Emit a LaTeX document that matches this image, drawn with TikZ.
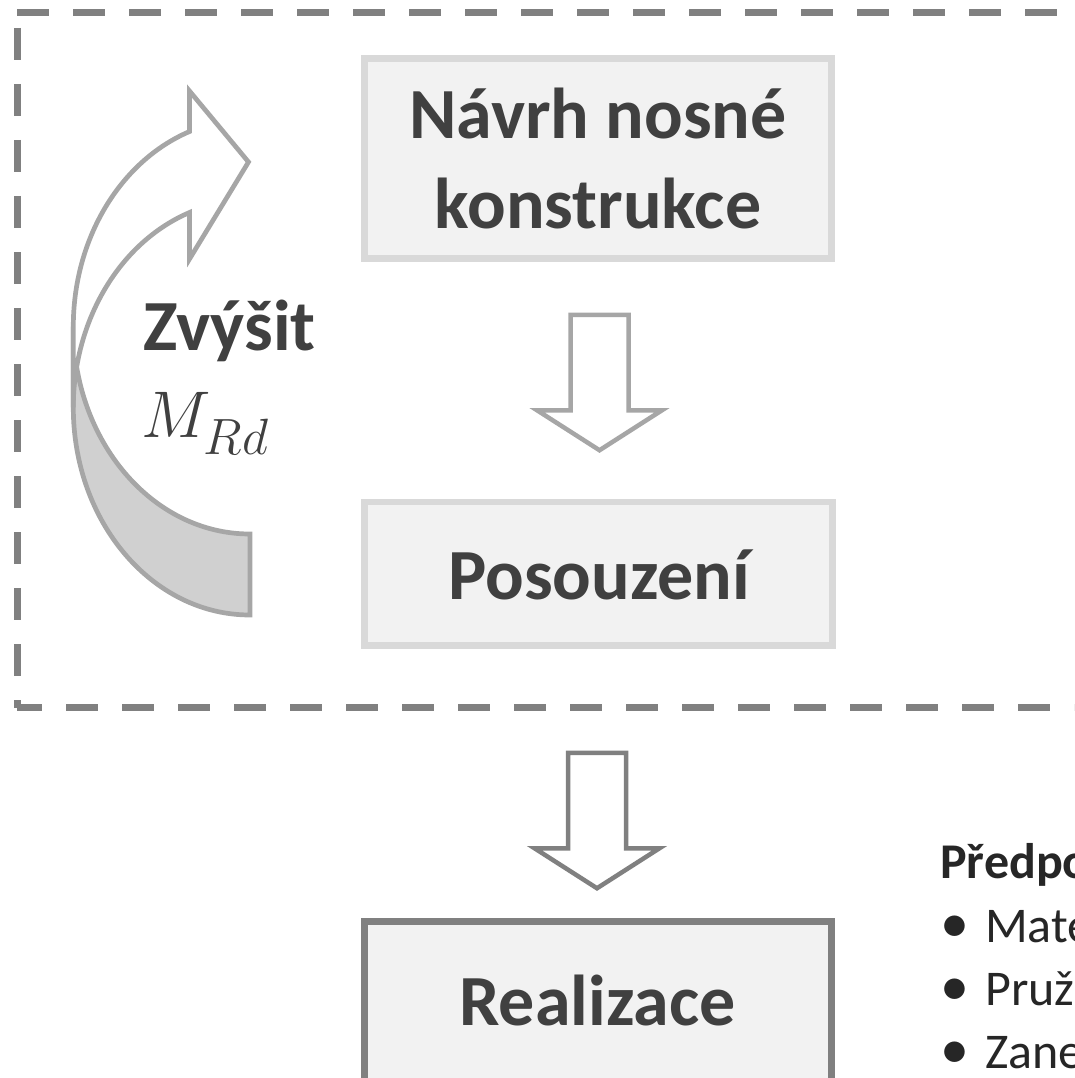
\RequirePackage{fix-cm}
\documentclass[tikz,border=0pt]{standalone}
\usepackage{fontspec}
\setmainfont{Carlito}
\usetikzlibrary{calc}
\DeclareMathSizes{66}{66}{51}{40}
\definecolor{boxfill}{HTML}{F2F2F2}
\definecolor{boxline}{HTML}{D9D9D9}
\definecolor{darkline}{HTML}{808080}
\definecolor{arrowA}{HTML}{A6A6A6}
\definecolor{backband}{HTML}{D0D0D0}
\definecolor{txt}{HTML}{404040}
\definecolor{rtxt}{HTML}{262626}
\begin{document}
\begin{tikzpicture}[x=1pt,y=-1pt,line join=miter,
  dashline/.style={draw=darkline,line width=7pt,dash pattern=on 32pt off 24pt},
  lightbox/.style={draw=boxline,fill=boxfill,line width=6.5pt,inner sep=0pt},
  darkbox/.style={draw=darkline,fill=boxfill,line width=6.5pt,inner sep=0pt},
  boxtext/.style={text=txt,inner sep=0pt,font=\fontsize{72}{89}\selectfont\bfseries,align=center},
  rtext/.style={text=rtxt,inner sep=0pt,anchor=base west,font=\fontsize{50}{61}\selectfont},
  blockdown/.pic={\path[pic actions] (-29,0) -- (-29,95.5) -- (-62.5,95.5) -- (0,135.5) -- (62.5,95.5) -- (29,95.5) -- (29,0) -- cycle;}
]
\useasboundingbox (0,0) rectangle (1074,1078);
\clip (0,0) rectangle (1074,1078);
% dashed frame
\draw[dashline] (17,12.5) -- (1120,12.5);
\draw[dashline,dash phase=40.5pt] (17,12.5) -- (17,707.5);
\draw[dashline,dash phase=7pt] (17,707.5) -- (1120,707.5);
% boxes
\node[lightbox,minimum width=467pt,minimum height=200pt] (box1) at (598,158.5) {};
\node[boxtext,anchor=base] (t1) at (598,228) {Návrh nosné\\konstrukce};
\node[lightbox,minimum width=468pt,minimum height=143.5pt] (box2) at (598.5,573.75) {};
\node[boxtext,anchor=base] (t2) at (599,599) {Posouzení};
\node[darkbox,minimum width=467pt,minimum height=240pt] (box3) at (598,1041.5) {};
\node[boxtext,anchor=base] (t3) at (597.5,1025) {Realizace};
% block arrows
\pic[draw=arrowA,fill=white,line width=4.5pt] at ($(box1.south)+(1.5,53)$) {blockdown};
\pic[draw=darkline,fill=white,line width=4.5pt] at ($(box3.north)+(-1,-165.5)$) {blockdown};
% curved arrow
\path[fill=backband,draw=arrowA,line width=4.7pt]
  (73.3,407.5) arc[start angle=180,end angle=270,x radius=176.7pt,y radius=207.5pt]
  -- (250,534) arc[start angle=270,end angle=180,x radius=176.7pt,y radius=207.5pt] -- cycle;
\path[fill=white,draw=arrowA,line width=4.7pt]
  (73.3,326.5) arc[start angle=180,end angle=110.02,x radius=176.7pt,y radius=207.5pt]
  -- (189.5,91) -- (248.5,162) -- (189.5,259) -- (189.5,212.5)
  arc[start angle=110.02,end angle=180,x radius=176.7pt,y radius=207.5pt] -- cycle;
\node[text=txt,inner sep=0pt,anchor=base west,font=\fontsize{72}{80}\selectfont\bfseries] (zv) at (143,350) {Zvýšit};
\node[text=txt,inner sep=0pt,anchor=base west,font=\fontsize{66}{72}\selectfont] (mrd) at (141,437) {$M_{\lower8pt\hbox{$\scriptstyle Rd$}}$};
% right text
\node[rtext,font=\fontsize{50}{61}\selectfont\bfseries] (hdr) at (940,878) {Předpo};
\node[rtext] (i1) at (940,942) {\makebox[45pt][l]{\fontsize{58}{61}\selectfont•}Mate};
\node[rtext] (i2) at (940,1005) {\makebox[45pt][l]{\fontsize{58}{61}\selectfont•}Pruž};
\node[rtext] (i3) at (940,1068) {\makebox[45pt][l]{\fontsize{58}{61}\selectfont•}Zane};
\end{tikzpicture}
\end{document}
